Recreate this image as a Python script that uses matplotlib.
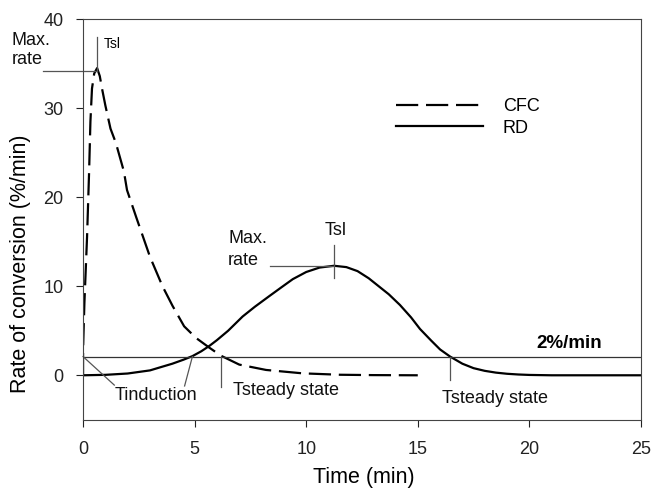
import matplotlib
matplotlib.use("Agg")
import matplotlib.pyplot as plt

plt.rcParams['font.family'] = ['Liberation Sans', 'DejaVu Sans']

# CFC curve (dashed)
t_cfc = [0, 0.0, 0.06, 0.18, 0.27, 0.33, 0.40, 0.5, 0.63, 0.75, 0.85, 1.0, 1.23,
         1.47, 1.83, 1.97, 2.39, 3.0, 3.56, 4.01, 4.53, 5.06, 5.66, 6.18, 7.0,
         8.2, 9.83, 11.5, 13, 15]
v_cfc = [0, 2.9, 8.1, 15.6, 22.8, 28.5, 32.2, 33.9, 34.5, 33.6, 32.2, 30.3, 27.7,
         26.1, 22.9, 20.8, 17.7, 13.3, 10.0, 7.8, 5.5, 4.2, 3.1, 2.2, 1.2,
         0.6, 0.22, 0.06, 0.02, 0]

# RD curve (solid)
t_rd = [0, 1, 2, 3, 3.41, 4, 4.5, 4.9, 5.3, 5.66, 6, 6.5, 7.15, 7.7, 8.35, 8.9,
        9.4, 10, 10.6, 11.25, 11.8, 12.3, 12.8, 13.2, 13.7, 14.2, 14.7, 15.1,
        15.6, 16.0, 16.45, 17.0, 17.5, 18, 18.5, 19, 19.5, 20, 21, 25]
v_rd = [0, 0.05, 0.2, 0.55, 0.86, 1.3, 1.75, 2.15, 2.7, 3.3, 3.95, 5.0, 6.6, 7.7,
        8.9, 9.9, 10.8, 11.6, 12.1, 12.3, 12.15, 11.7, 10.9, 10.1, 9.1, 7.9, 6.5,
        5.2, 3.9, 2.9, 2.1, 1.3, 0.8, 0.5, 0.3, 0.17, 0.09, 0.04, 0, 0]

threshold = 2.1
x_ticks = [0, 5, 10, 15, 20, 25]
y_ticks = [0, 10, 20, 30, 40]

fig = plt.figure(figsize=(6.54, 4.91), dpi=100)
ax = fig.add_axes([0.127, 0.145, 0.853, 0.816])

ax.plot(t_cfc, v_cfc, color="black", lw=1.6, dashes=(10, 3.5), label="CFC")
ax.plot(t_rd, v_rd, color="black", lw=1.6, label="RD")
ax.axhline(threshold, color="#333333", lw=0.9)

ax.set_xlim(0, 25)
ax.set_ylim(-5, 40)
ax.set_xticks(x_ticks)
ax.set_yticks(y_ticks)
ax.tick_params(direction="out", length=5, width=0.8, labelsize=13, colors="#222222")
ax.tick_params(axis="x", pad=10)
ax.tick_params(axis="y", pad=9)
for s in ax.spines.values():
    s.set_linewidth(0.8)
    s.set_color("#444444")

ax.set_xlabel("Time (min)", fontsize=15.5)
ax.set_ylabel("Rate of conversion (%/min)", fontsize=15.5)
ax.xaxis.set_label_coords(0.503, -0.118)
ax.yaxis.set_label_coords(-0.093, 0.39)

# legend
leg = ax.legend(loc="upper left", bbox_to_anchor=(0.545, 0.825), frameon=False,
                fontsize=13, handlelength=4.8, handletextpad=1.1, labelspacing=0.25,
                borderpad=0)

ann = dict(color="#555555", lw=0.9, clip_on=False)
tc = dict(fontsize=13, color="#111111")

# CFC peak
ax.text(-3.2, 38.6, "Max.\nrate", ha="left", va="top", linespacing=1.2, **tc)
ax.plot([-1.8, 0.63], [34.2, 34.2], **ann)
ax.plot([0.63, 0.63], [34.2, 38.0], **ann)
ax.text(0.92, 36.4, "Tsl", ha="left", va="bottom", fontsize=10)

# RD peak
ax.text(6.5, 16.3, "Max.\nrate", ha="left", va="top", linespacing=1.4, **tc)
ax.plot([8.4, 11.25], [12.3, 12.3], **ann)
ax.plot([11.25, 11.25], [10.9, 14.6], **ann)
ax.text(11.3, 15.3, "Tsl", ha="center", va="bottom", **tc)

# induction
ax.text(1.4, -3.2, "Tinduction", ha="left", va="bottom", **tc)
ax.plot([0, 1.4], [threshold, -1.1], **ann)
ax.plot([4.9, 4.55], [threshold, -1.2], **ann)

# steady state
ax.plot([6.18, 6.18], [threshold, -1.3], **ann)
ax.text(6.7, -2.7, "Tsteady state", ha="left", va="bottom", **tc)
ax.plot([16.45, 16.45], [threshold, -0.5], **ann)
ax.text(16.1, -3.6, "Tsteady state", ha="left", va="bottom", **tc)

ax.text(20.3, 2.6, "2%/min", ha="left", va="bottom", fontsize=13.5, fontweight="bold")

fig.savefig("out.png", dpi=100)
